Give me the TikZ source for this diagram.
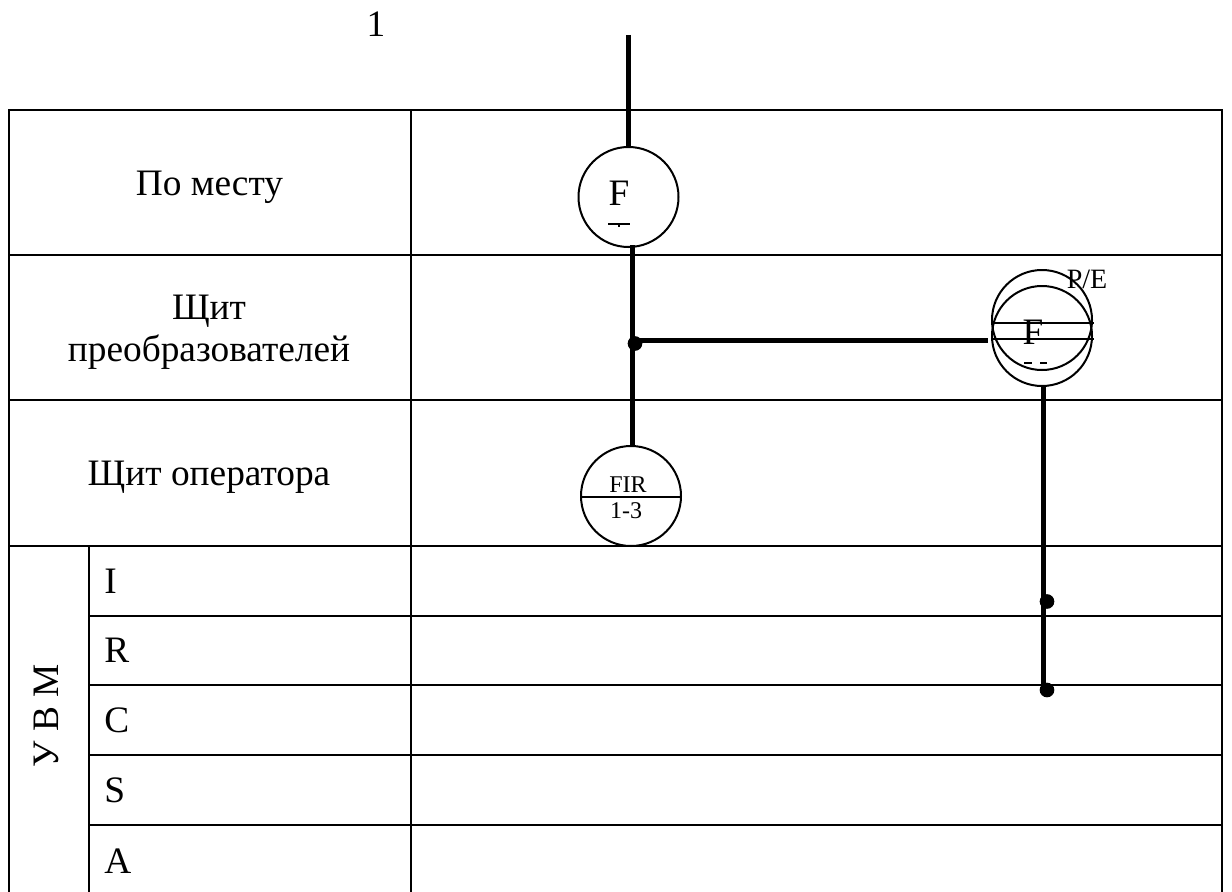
\documentclass[tikz,border=0pt]{standalone}
\usepackage{fontspec}
\setmainfont{Liberation Serif}
\newcommand{\fs}[1]{\fontsize{#1}{#1}\selectfont}
\tikzset{x=0.75pt,y=-0.75pt,
 grid/.style={line width=1.5pt,black},
 heavy/.style={line width=3.75pt,black},
 ring/.style={line width=1.5pt,black},
 lab/.style={inner sep=0pt,anchor=base,font=\fs{28}},
 tiny/.style={inner sep=0pt,anchor=base,font=\fs{18}},
 dotm/.style={circle,fill=black,inner sep=0pt,minimum size=11pt}}
\begin{document}
\begin{tikzpicture}
\useasboundingbox (0,0) rectangle (1232,892);
% table
\draw[grid] (9,892) -- (9,110) -- (1222,110) -- (1222,892);
\draw[grid] (411,110) -- (411,892);
\draw[grid] (89,546) -- (89,892);
\draw[grid] (9,255) -- (1222,255);
\draw[grid] (9,400) -- (1222,400);
\draw[grid] (9,546) -- (1222,546);
\draw[grid] (89,616) -- (1222,616);
\draw[grid] (89,685) -- (1222,685);
\draw[grid] (89,755) -- (1222,755);
\draw[grid] (89,825) -- (1222,825);
% labels
\node[lab] (one) at (376,37) {1};
\node[lab] (mesto) at (209.5,195) {По месту};
\node[lab] (shchit) at (209,319) {Щит};
\node[lab] (preob) at (209,361) {преобразователей};
\node[lab] (oper) at (209,485) {Щит оператора};
\node[lab,rotate=90] (uvm) at (58,716) {У В М};
\node[lab,anchor=base west] (i) at (104,593) {I};
\node[lab,anchor=base west] (r) at (104,662) {R};
\node[lab,anchor=base west] (c) at (104,732) {C};
\node[lab,anchor=base west] (s) at (104,802) {S};
\node[lab,anchor=base west] (a) at (104,873) {A};
% instruments
\node[circle,draw,ring,minimum size=75pt,inner sep=0pt] (top) at (628.5,197) {};
\node[lab] (ftop) at (619,205) {F};
\draw[line width=1.6pt] (608,224) -- (630,224);
\draw[line width=1.6pt] (619,224) -- (619,227);
\node[circle,draw,ring,minimum size=75pt,inner sep=0pt] (pe1) at (1042,320) {};
\node[circle,draw,ring,minimum size=75pt,inner sep=0pt] (pe2) at (1042,336) {};
\draw[ring] (993,323) -- (1094,323);
\draw[ring] (993,339) -- (1094,339);
\node[lab] (fpe) at (1033,344) {F};
\node[inner sep=0pt,anchor=base,font=\fs{21}] (pelab) at (1087,288) {P/E};
\draw[line width=1.6pt] (1024,363) -- (1032,363);
\draw[line width=1.6pt] (1040,363) -- (1047,363);
\node[circle,draw,ring,minimum size=75pt,inner sep=0pt] (fir) at (631,496) {};
\draw[ring] (582,497) -- (682,497);
\node[tiny] (firtop) at (628,492) {FIR};
\node[tiny] (firbot) at (626,518) {1-3};
% connectors
\coordinate (in) at (628,35);
\coordinate (rightfoot) at (1043,690);
\draw[heavy] (in) -- (628,147);
\draw[heavy] (632,245) -- (632,447);
\draw[heavy] (636,340) -- (988,340);
\draw[heavy] (1043,386) -- (rightfoot);
\node[dotm] (d1) at (635,343.5) {};
\node[dotm] (d2) at (1047,601.5) {};
\node[dotm] (d3) at (1047,690) {};
\end{tikzpicture}
\end{document}
